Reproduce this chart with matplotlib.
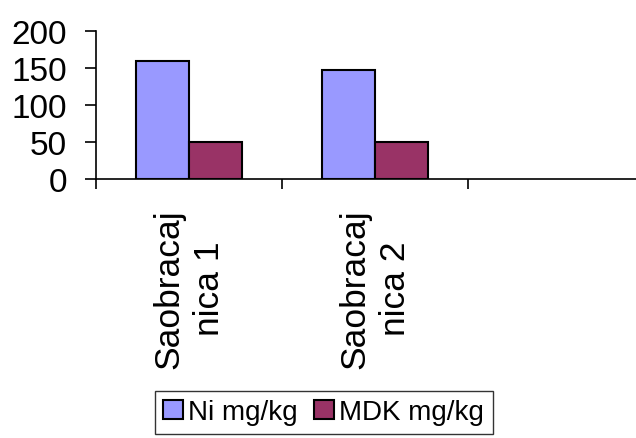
import numpy as np
import matplotlib.pyplot as plt

plt.rcParams['font.family'] = ['Liberation Sans', 'DejaVu Sans']

categories = ['Saobracaj\nnica 1', 'Saobracaj\nnica 2']
ni_values = [160, 147]
mdk_values = [50, 50]
series_names = ['Ni mg/kg', 'MDK mg/kg']
y_ticks = [0, 50, 100, 150, 200]

fig = plt.figure(figsize=(6.36, 4.39), dpi=100)
ax = fig.add_axes([0.151, 0.590, 0.849, 0.337])

x = np.arange(len(categories))
w = 0.285
ax.bar(x - w / 2, ni_values, w, color='#9999FF', edgecolor='black', linewidth=1.5,
       label=series_names[0])
ax.bar(x + w / 2, mdk_values, w, color='#993366', edgecolor='black', linewidth=1.5,
       label=series_names[1])

ax.set_xlim(-0.5, 2.403)
ax.set_ylim(0, 200)
ax.set_yticks(y_ticks)
ax.tick_params(axis='y', labelsize=24, length=8, width=1.2, pad=13, direction='out')

# category boundaries get the ticks, labels sit between them
ax.set_xticks([-0.5, 0.5, 1.5])
ax.set_xticklabels([])
ax.tick_params(axis='x', which='major', length=7.5, width=1.2, direction='out')
ax.set_xticks(x, minor=True)
ax.set_xticklabels(categories, minor=True, rotation=90, fontsize=25.5,
                   ha='center', va='top', multialignment='center',
                   linespacing=1.3)
ax.tick_params(axis='x', which='minor', length=0, pad=21)

for s in ['top', 'right']:
    ax.spines[s].set_visible(False)
for s in ['left', 'bottom']:
    ax.spines[s].set_linewidth(1.2)

leg = fig.legend(loc='upper center', bbox_to_anchor=(0.509, 0.107), ncol=2,
                 fontsize=20, frameon=True, fancybox=False, edgecolor='black',
                 handlelength=0.7, handleheight=0.7, handletextpad=0.2,
                 columnspacing=0.6, borderpad=0.3, borderaxespad=0)
leg.get_frame().set_linewidth(1.0)

fig.savefig('out.png', dpi=100)
